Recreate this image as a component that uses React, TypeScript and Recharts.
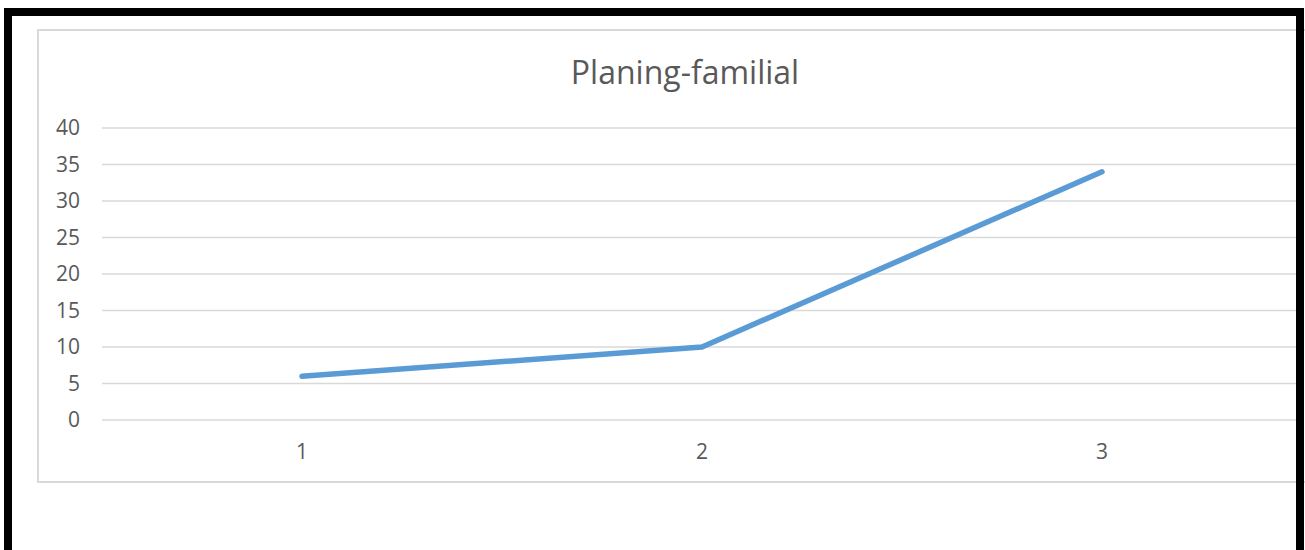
import React from 'react'
import { LineChart, Line, XAxis, YAxis, CartesianGrid } from 'recharts'

const categories = ['1', '2', '3']
const values = [6, 10, 34]
const yTicks = [0, 5, 10, 15, 20, 25, 30, 35, 40]

const chartData = categories.map((name, i) => ({ name, value: values[i] }))

const textColor = '#595959'
const fontFamily = '"Open Sans", sans-serif'

export default function App() {
  return (
    <div
      style={{
        position: 'absolute',
        left: 0,
        top: 0,
        width: 1305,
        height: 550,
        overflow: 'hidden',
        background: '#ffffff',
        fontFamily,
      }}
    >
      {/* chart area outline */}
      <div
        style={{
          position: 'absolute',
          left: 37,
          top: 29,
          width: 1300,
          height: 454,
          boxSizing: 'border-box',
          border: '2px solid #d9d9d9',
        }}
      />

      <div
        style={{
          position: 'absolute',
          left: 0,
          top: 50,
          width: 1370,
          textAlign: 'center',
          fontSize: 32,
          lineHeight: '44px',
          color: textColor,
        }}
      >
        Planing-familial
      </div>

      <div style={{ position: 'absolute', left: 0, top: 0 }}>
        <LineChart
          width={1305}
          height={550}
          data={chartData}
          margin={{ top: 128, right: 3, left: 42, bottom: 70 }}
        >
          <CartesianGrid vertical={false} stroke="#d9d9d9" strokeWidth={1.5} />
          <XAxis
            dataKey="name"
            axisLine={false}
            tickLine={false}
            height={60}
            tickMargin={18}
            padding={{ left: 200, right: 200 }}
            tick={{ fontSize: 21, fill: textColor, fontFamily }}
          />
          <YAxis
            domain={[0, 40]}
            ticks={yTicks}
            width={60}
            axisLine={false}
            tickLine={false}
            tickMargin={16}
            tick={{ fontSize: 21, fill: textColor, fontFamily }}
          />
          <Line
            type="linear"
            dataKey="value"
            stroke="#5b9bd5"
            strokeWidth={5.5}
            strokeLinecap="round"
            strokeLinejoin="round"
            dot={false}
            activeDot={false}
            isAnimationActive={false}
          />
        </LineChart>
      </div>

      {/* black frame, open at the bottom */}
      <div
        style={{
          position: 'absolute',
          left: 4,
          top: 8,
          width: 1300,
          height: 542,
          boxSizing: 'border-box',
          borderTop: '8px solid #000',
          borderLeft: '8px solid #000',
          borderRight: '8px solid #000',
        }}
      />
    </div>
  )
}
